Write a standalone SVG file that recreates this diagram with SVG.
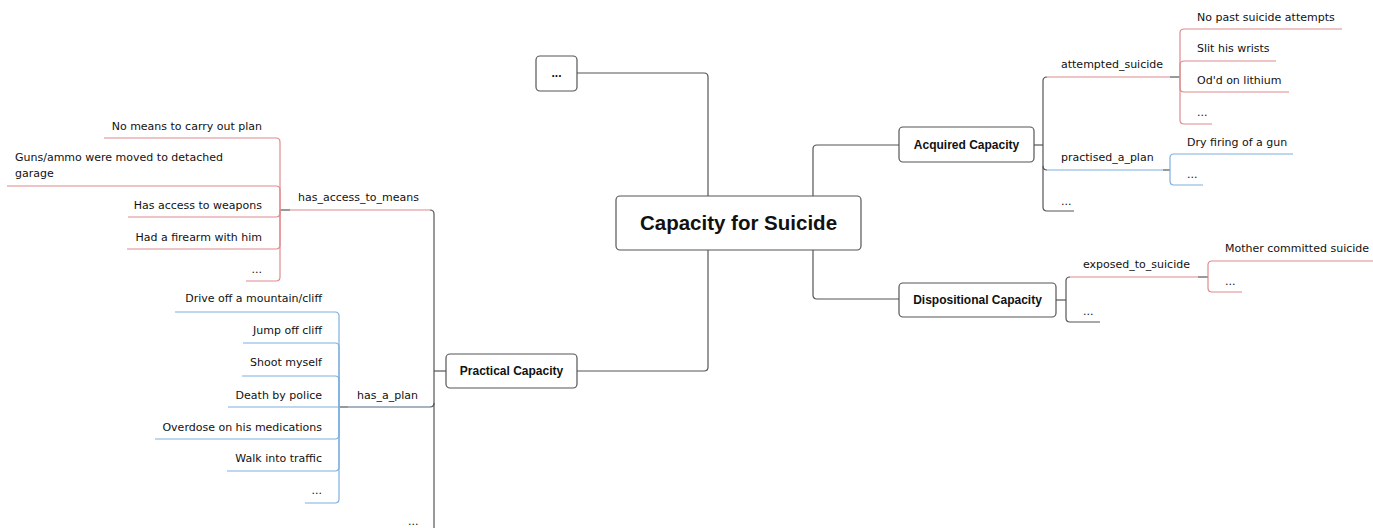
<svg xmlns="http://www.w3.org/2000/svg" width="1373" height="528" viewBox="0 0 1373 528">
<style>
  .bg { fill: #ffffff; }
  .node rect { fill: #ffffff; stroke: #555555; stroke-width: 1.2; }
  .c { fill: none; stroke: #555555; stroke-width: 1.2; }
  .r { fill: none; stroke: #e08a8e; stroke-width: 1.2; }
  .b { fill: none; stroke: #7db0de; stroke-width: 1.2; }
  .bd { fill: none; stroke: #4f6b86; stroke-width: 1.2; }
  .t { font-family: "DejaVu Sans", sans-serif; font-size: 11px; fill: #111111; }
  .e { text-anchor: end; }
  .bold { font-family: "Liberation Sans", Arial, sans-serif; font-weight: bold; font-size: 12px; fill: #111111; text-anchor: middle; }
  .title { font-family: "Liberation Sans", Arial, sans-serif; font-weight: bold; font-size: 20.5px; fill: #111111; text-anchor: middle; }
</style>
<rect class="bg" x="0" y="0" width="1373" height="528"/>

<g id="connectors">
  <!-- main trunk -->
  <path class="c" d="M577,73 H704 Q708,73 708,77 V196"/>
  <path class="c" d="M708,250 V367 Q708,371 704,371 H577"/>
  <path class="c" d="M899,145 H817 Q813,145 813,149 V295 Q813,299 817,299 H899"/>

  <!-- Acquired Capacity -->
  <path class="c" d="M1034,145 H1043"/>
  <path class="c" d="M1047,77 Q1043,77 1043,81 V207 Q1043,211 1047,211 H1074"/>
  <path class="c" d="M1043,166 Q1043,170 1047,170"/>
  <path class="r" d="M1047,77 H1170"/>
  <path class="c" d="M1170,77 H1180"/>
  <path class="b" d="M1047,170 H1163"/>
  <path class="c" d="M1163,170 H1170"/>
  <path class="r" d="M1180,77 V33 Q1180,29 1184,29 H1342"/>
  <path class="r" d="M1180,77 V65 Q1180,61 1184,61 H1276"/>
  <path class="r" d="M1180,77 V88 Q1180,92 1184,92 H1289"/>
  <path class="r" d="M1180,77 V120 Q1180,124 1184,124 H1212"/>
  <path class="b" d="M1170,170 V158 Q1170,154 1174,154 H1293"/>
  <path class="b" d="M1170,170 V181 Q1170,185 1174,185 H1203"/>

  <!-- Dispositional Capacity -->
  <path class="c" d="M1056,300 H1066"/>
  <path class="c" d="M1070,277 Q1066,277 1066,281 V318 Q1066,322 1070,322 H1100"/>
  <path class="r" d="M1070,277 H1198"/>
  <path class="c" d="M1198,277 H1208"/>
  <path class="r" d="M1208,277 V265 Q1208,261 1212,261 H1373"/>
  <path class="r" d="M1208,277 V288 Q1208,292 1212,292 H1242"/>

  <!-- Practical Capacity -->
  <path class="c" d="M446,371 H434"/>
  <path class="c" d="M430,210 Q434,210 434,214 V528"/>
  <path class="c" d="M434,403 Q434,407 430,407"/>
  <path class="r" d="M430,210 H290"/>
  <path class="c" d="M290,210 H280"/>
  <path class="bd" d="M430,407 H348"/>
  <path class="c" d="M348,407 H339"/>

  <path class="r" d="M280,210 V142 Q280,138 276,138 H104"/>
  <path class="r" d="M280,210 V190 Q280,186 276,186 H7"/>
  <path class="r" d="M280,210 V213 Q280,217 276,217 H128"/>
  <path class="r" d="M280,210 V245 Q280,249 276,249 H127"/>
  <path class="r" d="M280,210 V277 Q280,281 276,281 H246"/>

  <path class="b" d="M339,407 V316 Q339,312 335,312 H175"/>
  <path class="b" d="M339,407 V347 Q339,343 335,343 H243"/>
  <path class="b" d="M339,407 V380 Q339,376 335,376 H242"/>
  <path class="b" d="M339,407 H228"/>
  <path class="b" d="M339,407 V435 Q339,439 335,439 H155"/>
  <path class="b" d="M339,407 V467 Q339,471 335,471 H227"/>
  <path class="b" d="M339,407 V499 Q339,503 335,503 H305"/>
</g>

<g id="central" class="node">
  <rect x="616" y="196" width="245" height="54" rx="4"/>
  <text class="title" x="738.5" y="230">Capacity for Suicide</text>
</g>
<g id="top-ellipsis" class="node">
  <rect x="536" y="56" width="41" height="35" rx="4"/>
  <text class="bold" x="556.5" y="77">...</text>
</g>
<g id="acquired" class="node">
  <rect x="899" y="127" width="135" height="35" rx="4"/>
  <text class="bold" x="966.5" y="149">Acquired Capacity</text>
</g>
<g id="dispositional" class="node">
  <rect x="899" y="283" width="157" height="34" rx="4"/>
  <text class="bold" x="977.5" y="304">Dispositional Capacity</text>
</g>
<g id="practical" class="node">
  <rect x="446" y="354" width="131" height="34" rx="4"/>
  <text class="bold" x="511.5" y="375">Practical Capacity</text>
</g>

<g id="acquired-topics">
  <text class="t" x="1061" y="68">attempted_suicide</text>
  <text class="t" x="1061" y="161">practised_a_plan</text>
  <text class="t" x="1061" y="205">...</text>
</g>
<g id="attempted-items">
  <text class="t" x="1197" y="21">No past suicide attempts</text>
  <text class="t" x="1197" y="52">Slit his wrists</text>
  <text class="t" x="1197" y="84">Od'd on lithium</text>
  <text class="t" x="1197" y="116">...</text>
</g>
<g id="practised-items">
  <text class="t" x="1187" y="146">Dry firing of a gun</text>
  <text class="t" x="1187" y="178">...</text>
</g>
<g id="dispositional-topics">
  <text class="t" x="1083" y="268">exposed_to_suicide</text>
  <text class="t" x="1083" y="315">...</text>
</g>
<g id="exposed-items">
  <text class="t" x="1225" y="252">Mother committed suicide</text>
  <text class="t" x="1225" y="285">...</text>
</g>
<g id="practical-topics">
  <text class="t" x="298" y="201">has_access_to_means</text>
  <text class="t" x="357" y="399">has_a_plan</text>
  <text class="t" x="408" y="525">...</text>
</g>
<g id="means-items">
  <text class="t e" x="262" y="130">No means to carry out plan</text>
  <text class="t" x="15" y="161">Guns/ammo were moved to detached</text>
  <text class="t" x="15" y="177">garage</text>
  <text class="t e" x="262" y="209">Has access to weapons</text>
  <text class="t e" x="262" y="241">Had a firearm with him</text>
  <text class="t e" x="262" y="273">...</text>
</g>
<g id="plan-items">
  <text class="t e" x="322" y="302">Drive off a mountain/cliff</text>
  <text class="t e" x="322" y="334">Jump off cliff</text>
  <text class="t e" x="322" y="366">Shoot myself</text>
  <text class="t e" x="322" y="399">Death by police</text>
  <text class="t e" x="322" y="431">Overdose on his medications</text>
  <text class="t e" x="322" y="462">Walk into traffic</text>
  <text class="t e" x="322" y="494">...</text>
</g>
</svg>
